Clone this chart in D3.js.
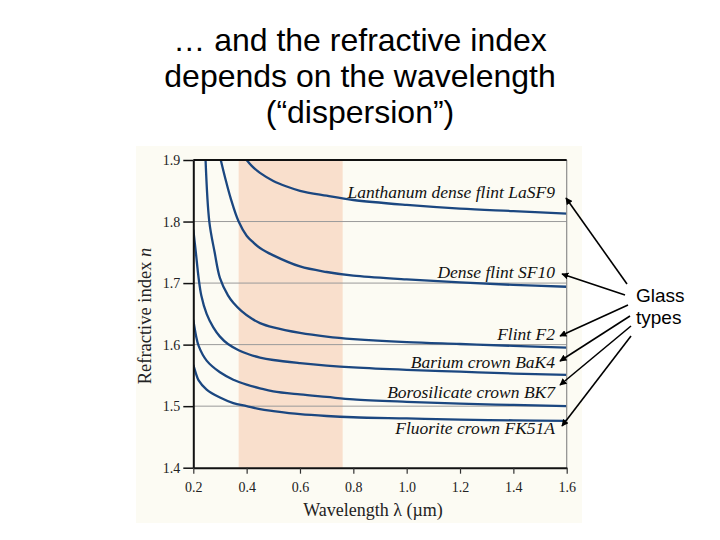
<!DOCTYPE html>
<html>
<head>
<meta charset="utf-8">
<script src="https://cdn.jsdelivr.net/npm/d3@7"></script>
<style>
  body { margin: 0; background: #fff; }
  svg { display: block; }
</style>
</head>
<body>
<svg id="chart" width="720" height="540"></svg>
<script>
/* data: [wavelength (µm), refractive index] */
const glassNames = ["Lanthanum dense flint LaSF9", "Dense flint SF10", "Flint F2",
    "Barium crown BaK4", "Borosilicate crown BK7", "Fluorite crown FK51A"];

const laSF9 = [[0.40, 1.900], [0.42, 1.890], [0.45, 1.879], [0.50, 1.866], [0.55, 1.857],
    [0.60, 1.850], [0.70, 1.842], [0.80, 1.835], [1.00, 1.827], [1.20, 1.821], [1.40, 1.817], [1.60, 1.813]];
const sf10 = [[0.303, 1.900], [0.32, 1.870], [0.34, 1.838], [0.37, 1.800], [0.40, 1.777], [0.425, 1.766],
    [0.45, 1.757], [0.50, 1.745], [0.60, 1.727], [0.70, 1.718], [0.80, 1.712], [1.00, 1.706], [1.20, 1.701],
    [1.40, 1.697], [1.60, 1.694]];
const f2 = [[0.246, 1.900], [0.26, 1.800], [0.28, 1.750], [0.30, 1.708], [0.33, 1.680], [0.35, 1.668],
    [0.38, 1.655], [0.42, 1.642], [0.45, 1.635], [0.50, 1.628], [0.60, 1.619], [0.70, 1.613], [0.80, 1.609],
    [1.00, 1.604], [1.20, 1.601], [1.40, 1.598], [1.60, 1.595]];
const baK4 = [[0.20, 1.787], [0.21, 1.748], [0.22, 1.708], [0.23, 1.680], [0.25, 1.650], [0.275, 1.628],
    [0.30, 1.613], [0.33, 1.601], [0.37, 1.591], [0.41, 1.584], [0.45, 1.579], [0.50, 1.575], [0.60, 1.570],
    [0.70, 1.566], [0.80, 1.563], [1.00, 1.559], [1.20, 1.556], [1.40, 1.553], [1.60, 1.551]];
const bk7 = [[0.20, 1.640], [0.21, 1.615], [0.22, 1.598], [0.25, 1.574], [0.30, 1.555], [0.35, 1.543],
    [0.40, 1.535], [0.45, 1.529], [0.50, 1.524], [0.60, 1.519], [0.70, 1.515], [0.80, 1.511], [1.00, 1.507],
    [1.20, 1.504], [1.40, 1.502], [1.60, 1.500]];
const fk51A = [[0.20, 1.567], [0.21, 1.553], [0.22, 1.542], [0.25, 1.527], [0.30, 1.514], [0.35, 1.505],
    [0.40, 1.500], [0.45, 1.495], [0.50, 1.492], [0.60, 1.487], [0.70, 1.484], [0.80, 1.482], [1.00, 1.480],
    [1.20, 1.478], [1.40, 1.477], [1.60, 1.476]];
const glassSeries = [laSF9, sf10, f2, baK4, bk7, fk51A];

const visibleBand = [0.37, 0.76];   // visible light, shaded
const xTicks = [0.2, 0.4, 0.6, 0.8, 1.0, 1.2, 1.4, 1.6];
const yTicks = [1.4, 1.5, 1.6, 1.7, 1.8, 1.9];
const gridTicks = [1.5, 1.6, 1.7, 1.8];

const titleLines = ["\u2026 and the refractive index", "depends on the wavelength", "(\u201cdispersion\u201d)"];
const noteLines = ["Glass", "types"];

/* layout */
const plotLeft = 193.3, plotRight = 566.7, plotTop = 160, plotBottom = 467.7;
const labelRight = 555;
const labelBaseline = [198, 278, 340, 367.5, 397.5, 434];
const arrowTail = [[627, 284], [625, 295], [628, 305], [630, 316], [631, 326], [631, 336]];
const arrowHead = [[566, 198], [562, 274], [560, 336], [560, 361], [560, 385], [562, 426]];

const svg = d3.select("#chart");
const serif = "'Liberation Serif', 'Times New Roman', serif";
const sans = "'Liberation Sans', Arial, sans-serif";

const x = d3.scaleLinear().domain([0.2, 1.6]).range([plotLeft, plotRight]);
const y = d3.scaleLinear().domain([1.4, 1.9]).range([plotBottom, plotTop]);

/* cream panel behind the plot */
svg.append("rect")
    .attr("x", 136).attr("y", 146)
    .attr("width", 446).attr("height", 377)
    .style("fill", "#fcfbf3");

const defs = svg.append("defs");
defs.append("clipPath")
    .attr("id", "plotClip")
    .append("rect")
    .attr("x", plotLeft).attr("y", plotTop)
    .attr("width", plotRight - plotLeft).attr("height", plotBottom - plotTop);

/* visible band */
svg.append("rect")
    .attr("x", x(visibleBand[0]))
    .attr("y", plotTop)
    .attr("width", x(visibleBand[1]) - x(visibleBand[0]))
    .attr("height", plotBottom - plotTop)
    .style("fill", "#f9dfcc");

/* grid lines */
svg.append("g")
    .selectAll("line")
    .data(gridTicks)
    .enter()
    .append("line")
    .attr("x1", plotLeft).attr("x2", plotRight)
    .attr("y1", d => y(d)).attr("y2", d => y(d))
    .style("stroke", "#9a9a9a")
    .style("stroke-width", 1);

/* curves */
const line = d3.line()
    .x(d => x(d[0]))
    .y(d => y(d[1]))
    .curve(d3.curveCatmullRom.alpha(0.5));

svg.append("g")
    .attr("clip-path", "url(#plotClip)")
    .selectAll("path")
    .data(glassSeries)
    .enter()
    .append("path")
    .attr("d", line)
    .style("fill", "none")
    .style("stroke", "#1b4780")
    .style("stroke-width", 2.3);

/* right border */
svg.append("line")
    .attr("x1", plotRight).attr("x2", plotRight)
    .attr("y1", plotTop).attr("y2", plotBottom)
    .style("stroke", "#8c8c8c")
    .style("stroke-width", 1.2);

/* top border */
svg.append("line")
    .attr("x1", plotLeft).attr("x2", plotRight)
    .attr("y1", plotTop).attr("y2", plotTop)
    .style("stroke", "#111")
    .style("stroke-width", 2);

/* y axis */
const yAxis = d3.axisLeft(y)
    .tickValues(yTicks)
    .tickFormat(d3.format(".1f"))
    .tickSize(10)
    .tickPadding(3)
    .tickSizeOuter(0);

svg.append("g")
    .attr("transform", "translate(" + plotLeft + ",0)")
    .call(yAxis)
    .call(g => g.select(".domain").style("stroke", "#111").style("stroke-width", 2))
    .call(g => g.selectAll(".tick line").style("stroke", "#111").style("stroke-width", 1.5))
    .call(g => g.selectAll(".tick text")
        .style("font-family", serif)
        .style("font-size", "14px")
        .style("fill", "#222"));

/* x axis */
const xAxis = d3.axisBottom(x)
    .tickValues(xTicks)
    .tickFormat(d3.format(".1f"))
    .tickSize(6)
    .tickPadding(8)
    .tickSizeOuter(0);

svg.append("g")
    .attr("transform", "translate(0," + plotBottom + ")")
    .call(xAxis)
    .call(g => g.select(".domain").style("stroke", "#111").style("stroke-width", 2))
    .call(g => g.selectAll(".tick line").style("stroke", "#333").style("stroke-width", 1.2))
    .call(g => g.selectAll(".tick text")
        .style("font-family", serif)
        .style("font-size", "14px")
        .style("fill", "#222"));

/* axis titles */
svg.append("text")
    .attr("x", 373)
    .attr("y", 516)
    .attr("text-anchor", "middle")
    .style("font-family", serif)
    .style("font-size", "18px")
    .style("fill", "#222")
    .text("Wavelength \u03bb (\u00b5m)");

const yTitle = svg.append("text")
    .attr("transform", "translate(151,316) rotate(-90)")
    .attr("text-anchor", "middle")
    .style("font-family", serif)
    .style("font-size", "18.5px")
    .style("fill", "#222");
yTitle.append("tspan").text("Refractive index ");
yTitle.append("tspan").style("font-style", "italic").text("n");

/* glass labels */
svg.append("g")
    .selectAll("text")
    .data(glassNames)
    .enter()
    .append("text")
    .attr("x", labelRight)
    .attr("y", (d, i) => labelBaseline[i])
    .attr("text-anchor", "end")
    .style("font-family", serif)
    .style("font-style", "italic")
    .style("font-size", "17.5px")
    .style("fill", "#111")
    .text(d => d);

/* arrows from the note to the labels */
defs.append("marker")
    .attr("id", "arrowHead")
    .attr("viewBox", "0 0 10 10")
    .attr("refX", 9).attr("refY", 5)
    .attr("markerWidth", 7).attr("markerHeight", 7)
    .attr("markerUnits", "userSpaceOnUse")
    .attr("orient", "auto")
    .append("path")
    .attr("d", "M0,0 L10,5 L0,10 z")
    .style("fill", "#000");

svg.append("g")
    .selectAll("line")
    .data(arrowTail)
    .enter()
    .append("line")
    .attr("x1", d => d[0]).attr("y1", d => d[1])
    .attr("x2", (d, i) => arrowHead[i][0]).attr("y2", (d, i) => arrowHead[i][1])
    .attr("marker-end", "url(#arrowHead)")
    .style("stroke", "#000")
    .style("stroke-width", 1.6);

svg.append("g")
    .selectAll("text")
    .data(noteLines)
    .enter()
    .append("text")
    .attr("x", 636)
    .attr("y", (d, i) => 302 + i * 22)
    .style("font-family", sans)
    .style("font-size", "19px")
    .style("fill", "#000")
    .text(d => d);

/* slide title */
svg.append("g")
    .selectAll("text")
    .data(titleLines)
    .enter()
    .append("text")
    .attr("x", 360)
    .attr("y", (d, i) => 51 + i * 36)
    .attr("text-anchor", "middle")
    .style("font-family", sans)
    .style("font-size", "32px")
    .style("fill", "#000")
    .text(d => d);
</script>
</body>
</html>
